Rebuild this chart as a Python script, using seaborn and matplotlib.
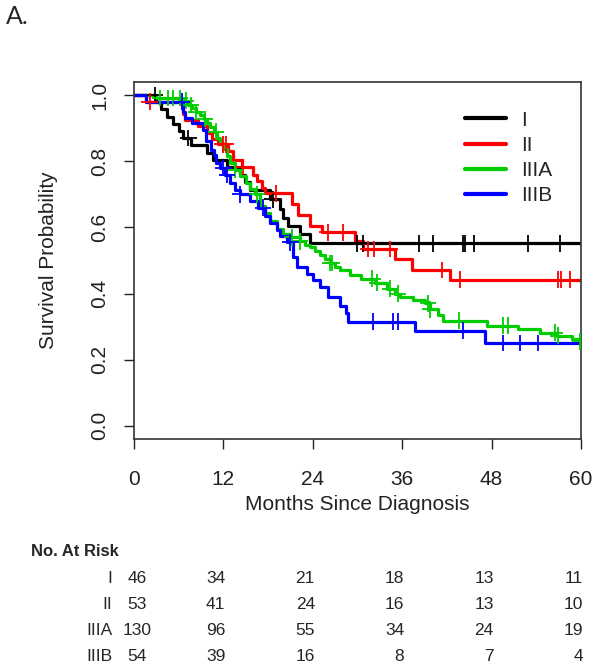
import numpy as np
import pandas as pd
import matplotlib
matplotlib.use("Agg")
import matplotlib.pyplot as plt
import matplotlib.transforms as mtransforms
from matplotlib.lines import Line2D
import seaborn as sns

# Kaplan-Meier estimates (months, survival after each step)
stages = ["I", "II", "IIIA", "IIIB"]
colors = ["#000000", "#FF0000", "#00CD00", "#0000FF"]

times_I = [0, 2.9, 3.6, 4.4, 5.2, 6.0, 6.6, 7.6, 9.8, 10.6, 12.5, 14.2, 14.9, 15.6,
           18.3, 19.6, 20.0, 20.7, 22.3, 23.6, 60]
surv_I = [1.0, 0.978, 0.957, 0.935, 0.913, 0.891, 0.870, 0.848, 0.826, 0.804, 0.782,
          0.760, 0.738, 0.712, 0.685, 0.655, 0.630, 0.605, 0.580, 0.552, 0.552]
cens_I = [2.8, 7.3, 18.6, 29.9, 30.7, 38.3, 40.1, 44.2, 44.4, 45.6, 52.9, 57.2]

times_II = [0, 1.6, 6.4, 6.6, 6.8, 8.6, 9.8, 10.5, 11.3, 12.6, 13.3, 14.5, 16.0, 16.5,
            17.2, 17.6, 21.2, 22.0, 23.6, 25.2, 29.7, 30.7, 35.0, 37.3, 42.4, 60]
surv_II = [1.0, 0.981, 0.962, 0.943, 0.924, 0.906, 0.887, 0.868, 0.851, 0.830, 0.805,
           0.783, 0.760, 0.740, 0.720, 0.703, 0.670, 0.637, 0.605, 0.585, 0.560, 0.535,
           0.505, 0.472, 0.442, 0.442]
cens_II = [2.1, 11.9, 12.3, 14.6, 19.0, 26.0, 28.1, 31.4, 32.2, 34.4, 41.3, 43.8,
           56.9, 57.3, 58.5]

times_IIIA = [0, 3.0, 6.8, 7.3, 7.8, 8.3, 8.9, 9.4, 9.8, 10.2, 10.7, 11.1, 11.5, 12.0,
              12.5, 12.9, 13.5, 14.2, 15.0, 15.6, 16.2, 16.9, 17.6, 18.3, 19.2, 20.0,
              20.9, 22.3, 23.0, 23.6, 24.3, 25.0, 25.6, 26.3, 27.0, 27.7, 29.0, 30.5,
              32.3, 34.0, 35.0, 35.7, 37.4, 39.0, 39.7, 40.8, 41.5, 47.4, 51.5, 54.5,
              56.8, 58.8, 59.8, 60]
surv_IIIA = [1.0, 0.992, 0.984, 0.970, 0.962, 0.950, 0.940, 0.928, 0.915, 0.905, 0.890,
             0.870, 0.855, 0.838, 0.815, 0.795, 0.775, 0.755, 0.735, 0.715, 0.700, 0.665,
             0.645, 0.620, 0.595, 0.580, 0.570, 0.558, 0.548, 0.540, 0.528, 0.518, 0.505,
             0.492, 0.480, 0.470, 0.455, 0.445, 0.433, 0.415, 0.400, 0.390, 0.380, 0.370,
             0.352, 0.335, 0.318, 0.303, 0.294, 0.282, 0.273, 0.264, 0.255, 0.255]
cens_IIIA = [3.5, 4.5, 5.2, 6.2, 7.0, 7.6, 8.3, 9.5, 11.0, 13.5, 16.5, 21.2, 22.3, 26.3,
             26.6, 32.0, 32.6, 34.4, 35.4, 39.5, 39.7, 43.6, 49.5, 50.2, 56.5, 56.9, 59.9]

times_IIIB = [0, 1.6, 6.6, 6.9, 7.8, 9.3, 9.7, 10.3, 10.7, 11.0, 11.5, 12.2, 12.9, 13.5,
              14.2, 15.6, 16.6, 17.6, 18.3, 19.2, 19.6, 20.5, 21.4, 21.9, 23.2, 24.0,
              25.0, 26.0, 27.7, 28.4, 28.7, 37.7, 47.1, 60]
surv_IIIB = [1.0, 0.981, 0.950, 0.930, 0.915, 0.895, 0.860, 0.835, 0.820, 0.795, 0.780,
             0.760, 0.735, 0.712, 0.700, 0.680, 0.660, 0.635, 0.612, 0.592, 0.575, 0.555,
             0.510, 0.480, 0.460, 0.440, 0.420, 0.390, 0.363, 0.340, 0.315, 0.288, 0.250,
             0.250]
cens_IIIB = [6.4, 12.0, 12.5, 14.2, 17.3, 21.0, 32.1, 34.8, 35.4, 44.2, 49.5, 51.8, 54.2]

# number at risk table
risk_times = [0, 12, 24, 36, 48, 60]
risk_I = [46, 34, 21, 18, 13, 11]
risk_II = [53, 41, 24, 16, 13, 10]
risk_IIIA = [130, 96, 55, 34, 24, 19]
risk_IIIB = [54, 39, 16, 8, 7, 4]

all_times = [times_I, times_II, times_IIIA, times_IIIB]
all_surv = [surv_I, surv_II, surv_IIIA, surv_IIIB]
all_cens = [cens_I, cens_II, cens_IIIA, cens_IIIB]
all_risk = [risk_I, risk_II, risk_IIIA, risk_IIIB]

# build long tables for seaborn
curve_parts = []
cens_parts = []
for st, t, s, c in zip(stages, all_times, all_surv, all_cens):
    curve_parts.append(pd.DataFrame({"month": t, "surv": s, "stage": st}))
    idx = np.searchsorted(t, c, side="right") - 1
    cens_parts.append(pd.DataFrame({"month": c, "surv": np.array(s)[idx], "stage": st}))
curves = pd.concat(curve_parts, ignore_index=True)
censored = pd.concat(cens_parts, ignore_index=True)

sns.set_style("ticks")
plt.rcParams["font.family"] = ["Liberation Sans", "DejaVu Sans"]

fig = plt.figure(figsize=(6, 6.69), dpi=100)
ax = fig.add_axes([134 / 600, 1 - 439 / 669, 447 / 600, 357 / 669])

sns.lineplot(data=curves, x="month", y="surv", hue="stage", hue_order=stages,
             palette=colors, estimator=None, sort=False, drawstyle="steps-post",
             linewidth=2.3, legend=False, ax=ax)
sns.scatterplot(data=censored, x="month", y="surv", hue="stage", hue_order=stages,
                palette=colors, marker="+", s=140, linewidth=1.3, legend=False,
                ax=ax, zorder=3)

ax.set_xlim(0, 60)
ax.set_ylim(-0.04, 1.04)
ax.set_xticks(risk_times)
ax.set_yticks([0, 0.2, 0.4, 0.6, 0.8, 1.0])
ax.set_yticklabels(["0.0", "0.2", "0.4", "0.6", "0.8", "1.0"], rotation=90, va="center")
ax.tick_params(axis="both", labelsize=15, length=7, width=1, color="#222222",
               labelcolor="#222222")
ax.tick_params(axis="x", pad=15)
ax.tick_params(axis="y", pad=11)
for sp in ax.spines.values():
    sp.set_visible(True)
    sp.set_color("#333333")
    sp.set_linewidth(1.2)
ax.set_xlabel("Months Since Diagnosis", fontsize=15, labelpad=5, color="#222222")
ax.set_ylabel("Survival Probability", fontsize=15, labelpad=23, color="#222222")

handles = [Line2D([], [], color=c, linewidth=3) for c in colors]
ax.legend(handles, stages, loc="upper left", bbox_to_anchor=(0.74, 0.92),
          frameon=False, fontsize=15, handlelength=2.0, handletextpad=0.7,
          labelspacing=0.3, borderpad=0, borderaxespad=0)

# at-risk table below the plot, sharing the month scale
tax = fig.add_axes([134 / 600, 0, 447 / 600, 129 / 669])
tax.set_xlim(0, 60)
tax.set_ylim(4.5, -0.5)
tax.axis("off")
tax.text(-13.8, -0.05, "No. At Risk", ha="left", va="center", fontsize=12,
         fontweight="bold", clip_on=False)
for r, (st, counts) in enumerate(zip(stages, all_risk), start=1):
    tax.text(-2.9, r, st, ha="right", va="center", fontsize=12.5, clip_on=False)
    for j, (t, n) in enumerate(zip(risk_times, counts)):
        if j == 0:
            tr = mtransforms.offset_copy(tax.transData, fig=fig, x=2.5, y=0, units="points")
            tax.text(t, r, str(n), ha="center", va="center", fontsize=12.5,
                     transform=tr, clip_on=False)
        else:
            tr = mtransforms.offset_copy(tax.transData, fig=fig, x=1.5, y=0, units="points")
            tax.text(t, r, str(n), ha="right", va="center", fontsize=12.5,
                     transform=tr, clip_on=False)

fig.text(0.01, 0.993, "A.", fontsize=18, va="top", ha="left", family=["Lato", "DejaVu Sans"])

fig.savefig("out.png", dpi=100)
